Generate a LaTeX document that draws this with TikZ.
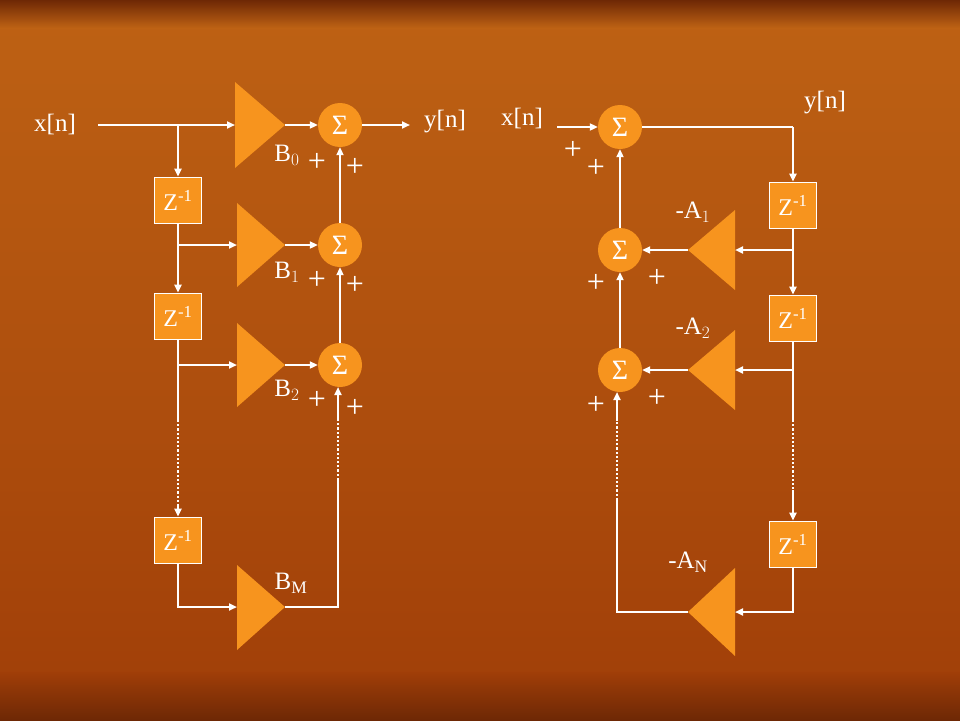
\documentclass[tikz,border=0pt]{standalone}
\usepackage{fontspec}
\setmainfont{Liberation Serif}
\usetikzlibrary{arrows.meta,calc}
\definecolor{org}{RGB}{247,148,30}
\definecolor{bgA}{RGB}{190,98,20}
\definecolor{bgB}{RGB}{160,62,8}
\definecolor{bgTop}{RGB}{110,40,5}
\newcommand{\zinv}{Z\textsuperscript{-1}}
\tikzset{
 wire/.style={draw=white,line width=2.2pt},
 arr/.style={wire,-{Triangle[length=8pt,width=7pt]}},
 dots/.style={draw=white,line width=2.2pt,dotted},
 zbox/.style={draw=white,line width=0.6pt,fill=org,minimum width=47pt,minimum height=46pt,inner sep=0pt,text=white,font=\fontsize{24}{24}\selectfont},
 sumc/.style={circle,fill=org,minimum size=44pt,inner sep=0pt,text=white,font=\fontsize{28}{28}\selectfont},
 lbl/.style={text=white,font=\fontsize{25}{25}\selectfont,inner sep=0pt},
 pl/.style={text=white,font=\fontsize{32}{32}\selectfont,inner sep=0pt},
 tri/.style={fill=org,draw=none}
}
\begin{document}
\begin{tikzpicture}[x=1pt,y=-1pt]
\useasboundingbox (0,0) rectangle (960,720);
\shade[top color=bgA,bottom color=bgB] (0,0) rectangle (960,720);
\shade[top color=bgTop,bottom color=bgA] (0,0) rectangle (960,28);
\shade[top color=bgB,bottom color=bgTop] (0,672) rectangle (960,720);
% ---------- left ----------
\node[lbl] (xl) at (55,124) {x[n]};
\coordinate (j0) at (178,125);
\node[zbox] (z1) at (178,200) {\zinv};
\node[zbox] (z2) at (178,316) {\zinv};
\node[zbox] (z3) at (178,540) {\zinv};
\fill[tri] (235,82) -- (285,125) -- (235,168) -- cycle;
\fill[tri] (237,203) -- (285,245) -- (237,287) -- cycle;
\fill[tri] (237,323) -- (285,365) -- (237,407) -- cycle;
\fill[tri] (237,565) -- (285,607) -- (237,650) -- cycle;
\coordinate (t0) at (235,125); \coordinate (t0o) at (285,125);
\coordinate (t1) at (237,245); \coordinate (t1o) at (285,245);
\coordinate (t2) at (237,365); \coordinate (t2o) at (285,365);
\coordinate (tm) at (237,607); \coordinate (tmo) at (285,607);
\node[sumc] (s0) at (340,125) {Σ};
\node[sumc] (s1) at (340,245) {Σ};
\node[sumc] (s2) at (340,365) {Σ};
\node[lbl] (yl) at (445,122) {y[n]};
\coordinate (ye) at (410,125);
\draw[arr] (98,125) -- (t0);
\draw[arr] (j0) -- (z1.north);
\draw[wire] (z1.south) -- (178,245);
\draw[arr] (178,245) -- (z2.north);
\draw[arr] (178,245) -- (t1);
\draw[wire] (z2.south) -- (178,420);
\draw[arr] (178,365) -- (t2);
\draw[dots] (178,420) -- (178,505);
\draw[arr] (178,505) -- (z3.north);
\draw[arr] (z3.south) |- (tm);
\draw[arr] (t0o) -- (s0);
\draw[arr] (t1o) -- (s1);
\draw[arr] (t2o) -- (s2);
\draw[arr] (s0) -- (ye);
\draw[arr] (s1) -- (s0);
\draw[arr] (s2) -- (s1);
\draw[wire] (tmo) -| (338,480);
\draw[dots] (338,480) -- (338,420);
\draw[arr] (338,420) -- (338,387);
\node[lbl] at (287,155) {B$_0$};
\node[lbl] at (287,272) {B$_1$};
\node[lbl] at (287,390) {B$_2$};
\node[lbl] at (291,583) {B\textsubscript{M}};
\foreach \p in {(317,162),(355,167),(317,280),(355,285),(317,400),(355,408)} \node[pl] at \p {+};
% ---------- right ----------
\node[lbl] (xr) at (522,118) {x[n]};
\node[sumc] (r0) at (620,127) {Σ};
\node[sumc] (r1) at (620,250) {Σ};
\node[sumc] (r2) at (620,370) {Σ};
\node[lbl] at (825,103) {y[n]};
\node[zbox] (w1) at (793,205) {\zinv};
\node[zbox] (w2) at (793,318) {\zinv};
\node[zbox] (w3) at (793,544) {\zinv};
\fill[tri] (735,210) -- (688,250) -- (735,290) -- cycle;
\fill[tri] (735,330) -- (688,370) -- (735,410) -- cycle;
\fill[tri] (735,568) -- (688,612) -- (735,656) -- cycle;
\coordinate (a1) at (735,250); \coordinate (a1o) at (688,250);
\coordinate (a2) at (735,370); \coordinate (a2o) at (688,370);
\coordinate (an) at (735,612); \coordinate (ano) at (688,612);
\draw[arr] (557,127) -- (r0);
\draw[wire] (r0) -- (793,127);
\draw[arr] (793,127) -- (w1.north);
\draw[wire] (w1.south) -- (793,250);
\draw[arr] (793,250) -- (w2.north);
\draw[arr] (793,250) -- (a1);
\draw[wire] (w2.south) -- (793,420);
\draw[arr] (793,370) -- (a2);
\draw[dots] (793,420) -- (793,490);
\draw[arr] (793,490) -- (w3.north);
\draw[arr] (w3.south) |- (an);
\draw[arr] (a1o) -- (r1);
\draw[arr] (a2o) -- (r2);
\draw[arr] (r1) -- (r0);
\draw[arr] (r2) -- (r1);
\draw[wire] (ano) -| (617,500);
\draw[dots] (617,500) -- (617,420);
\draw[arr] (617,420) -- (617,392);
\node[lbl] at (693,212) {-A$_1$};
\node[lbl] at (693,328) {-A$_2$};
\node[lbl] at (688,562) {-A\textsubscript{N}};
\foreach \p in {(573,150),(596,168),(596,283),(657,278),(596,405),(657,398)} \node[pl] at \p {+};
\end{tikzpicture}
\end{document}
